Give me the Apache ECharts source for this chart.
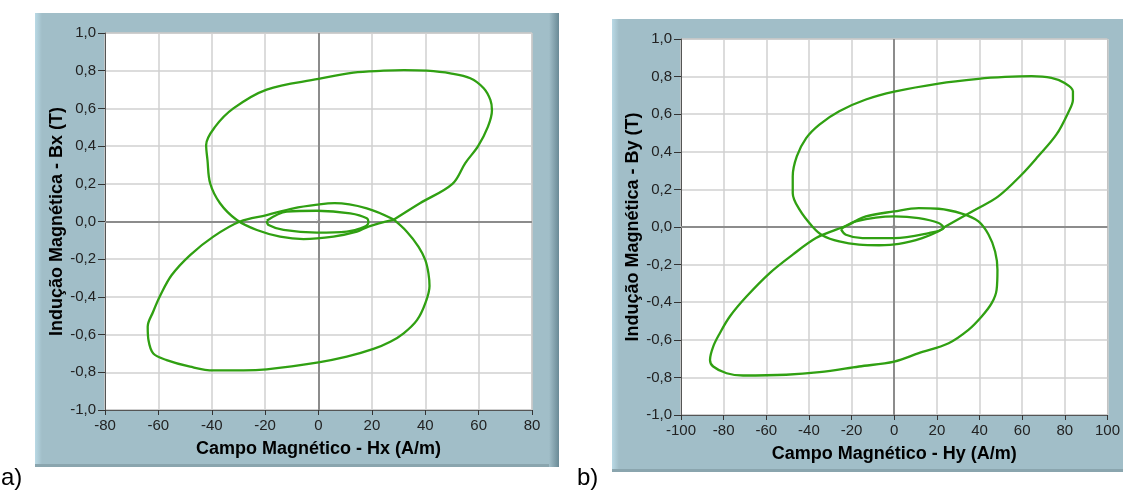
<!DOCTYPE html>
<html><head><meta charset="utf-8">
<script src="https://cdn.jsdelivr.net/npm/echarts@6/dist/echarts.min.js"></script>
<style>html,body{margin:0;padding:0;background:#fff}#c{width:1123px;height:490px}</style>
</head><body><div id="c"></div><script>
// ---- Panel a) : Bx vs Hx ----
const aUpperLoop = [[28,0.008],[38,0.097],[50.2,0.2],[55,0.31],[59.8,0.40],[63.5,0.503],[65,0.59],[64.4,0.645],[61.9,0.707],[56.9,0.76],[49.4,0.786],[40.6,0.80],[32,0.803],[24.4,0.80],[13.1,0.79],[0,0.756],[-19.4,0.70],[-31.9,0.60],[-38.7,0.503],[-42.1,0.406],[-41.6,0.326],[-40.6,0.203],[-36.9,0.097],[-30.6,0.008],[-23.1,-0.045],[-14.4,-0.08],[-5.6,-0.093],[5.6,-0.08],[14.4,-0.054],[18.7,-0.027],[28,0.008]];
const aLowerLoop = [[28,0.012],[18.1,0.07],[6,0.097],[0,0.09],[-9.4,0.07],[-19.4,0.034],[-29.4,0],[-39.4,-0.08],[-48.1,-0.178],[-55,-0.284],[-59.2,-0.39],[-62,-0.48],[-64,-0.558],[-63.7,-0.63],[-61.9,-0.70],[-56.9,-0.735],[-48.1,-0.77],[-39.4,-0.79],[-28.1,-0.79],[-19.4,-0.784],[0,-0.747],[10.6,-0.717],[20.6,-0.676],[26.9,-0.638],[31.9,-0.593],[36.9,-0.523],[40,-0.434],[41.6,-0.342],[41.2,-0.275],[40,-0.204],[37.5,-0.134],[33.1,-0.054],[28,0.012]];
const aInnerLoop = [[-19.4,0.004],[-11.9,0.052],[-0.6,0.057],[11.9,0.043],[18.1,0.017],[18.7,-0.006],[10.6,-0.054],[-0.6,-0.059],[-13.1,-0.045],[-18.7,-0.019],[-19.4,0.004]];
// ---- Panel b) : By vs Hy ----
const bUpperLoop = [[24,0.003],[38,0.092],[48.8,0.163],[59.7,0.278],[67.5,0.376],[76,0.491],[81.5,0.607],[83.8,0.678],[83.8,0.722],[79.9,0.766],[73.7,0.793],[64.4,0.802],[52,0.798],[39.5,0.788],[20.8,0.763],[0,0.72],[-13.3,0.678],[-25.8,0.616],[-35.1,0.545],[-41.3,0.473],[-45.7,0.376],[-47.6,0.27],[-47.6,0.18],[-44.4,0.092],[-38.2,0.0],[-33.6,-0.045],[-25.8,-0.077],[-16.5,-0.094],[-7.1,-0.097],[2.2,-0.09],[13.1,-0.059],[20.8,-0.023],[24,0.003]];
const bLowerLoop = [[-21.1,0.012],[-13.3,0.056],[0,0.083],[11.5,0.1],[20.8,0.097],[31.7,0.071],[39.5,0.03],[44.2,-0.04],[47.3,-0.13],[48.4,-0.227],[48,-0.334],[45.7,-0.405],[41,-0.476],[34.8,-0.547],[25.5,-0.618],[11.5,-0.671],[0,-0.716],[-16.5,-0.742],[-35.1,-0.772],[-50.7,-0.786],[-70.9,-0.79],[-78.6,-0.778],[-84.9,-0.742],[-86.4,-0.707],[-84.9,-0.636],[-81.8,-0.565],[-77.1,-0.476],[-69.3,-0.37],[-58.4,-0.245],[-47.6,-0.147],[-36.7,-0.059],[-27.3,-0.014],[-21.1,0.012]];
const bInnerLoop = [[-25,-0.011],[-18,0.03],[0,0.056],[11.5,0.047],[20.8,0.021],[23.2,-0.005],[16.2,-0.032],[0,-0.059],[-14.9,-0.059],[-22.7,-0.041],[-25,-0.011]];

const xTitles = ['Campo Magnético - Hx (A/m)', 'Campo Magnético - Hy (A/m)'];
const yTitles = ['Indução Magnética - Bx (T)', 'Indução Magnética - By (T)'];
const xRanges = [[-80, 80], [-100, 100]];
const yRange = [-1, 1];
const panelLabels = ['a)', 'b)'];

const GREEN = '#30a012';
const FONT = 'Liberation Sans, Arial, sans-serif';

function xAxis(i) {
  return {
    type: 'value', gridIndex: i, min: xRanges[i][0], max: xRanges[i][1], interval: 20,
    name: xTitles[i], nameLocation: 'middle', nameGap: 30,
    nameTextStyle: { fontFamily: FONT, fontWeight: 'bold', fontSize: 18, color: '#000' },
    axisLine: { show: true, onZero: false, lineStyle: { color: '#555', width: 1 } },
    axisTick: { show: true, length: 5, lineStyle: { color: '#333' } },
    axisLabel: { color: '#222', fontFamily: FONT, fontSize: 15, margin: 8 },
    splitLine: { show: true, lineStyle: { color: '#d0d0d0', width: 1.5 } }
  };
}
function yAxis(i) {
  return {
    type: 'value', gridIndex: i, min: yRange[0], max: yRange[1], interval: 0.2,
    name: yTitles[i], nameLocation: 'middle', nameGap: 37, nameRotate: 90,
    nameTextStyle: { fontFamily: FONT, fontWeight: 'bold', fontSize: 18, color: '#000' },
    axisLine: { show: true, onZero: false, lineStyle: { color: '#555', width: 1 } },
    axisTick: { show: true, length: 7, lineStyle: { color: '#333' } },
    axisLabel: { color: '#222', fontFamily: FONT, fontSize: 15, margin: 9,
      formatter: v => (Math.abs(v) < 1e-9 ? 0 : v).toFixed(1).replace('.', ',') },
    splitLine: { show: true, lineStyle: { color: '#d0d0d0', width: 1.5 } }
  };
}
function loop(i, data) {
  return { type: 'line', xAxisIndex: i, yAxisIndex: i, data: data, smooth: 0.35,
    showSymbol: false, symbol: 'none', z: 5, silent: true,
    lineStyle: { color: GREEN, width: 2.3 } };
}
function axesZero(i) {
  return { type: 'scatter', xAxisIndex: i, yAxisIndex: i, data: [[0, 0]], z: 3, silent: true,
    symbol: 'path://M0,-1L0,1M-1,0L1,0M-0.7,-0.7L0.7,0.7M-0.7,0.7L0.7,-0.7', symbolSize: 6,
    itemStyle: { color: 'none', borderColor: '#c8c8c8', borderWidth: 1 },
    markLine: { silent: true, symbol: ['none', 'none'], label: { show: false },
      lineStyle: { color: '#8c8c8c', type: 'solid', width: 2 },
      data: [{ xAxis: 0 }, { yAxis: 0 }] } };
}

function frame(x, y, w, h, darkRight) {
  const els = [
    { type: 'rect', shape: { x: x, y: y, width: w, height: h }, style: { fill: '#a1bec8' }, z: -10 },
    { type: 'rect', shape: { x: x, y: y, width: 7, height: h },
      style: { fill: new echarts.graphic.LinearGradient(0, 0, 1, 0, [{ offset: 0, color: '#b9d9e5' }, { offset: 1, color: '#a1bec8' }]) }, z: -9 },
    { type: 'rect', shape: { x: x, y: y + h - 3, width: w, height: 3 }, style: { fill: '#8aa5ae' }, z: -9 }
  ];
  if (darkRight) {
    els.push({ type: 'rect', shape: { x: x + w - 10, y: y, width: 10, height: h },
      style: { fill: new echarts.graphic.LinearGradient(0, 0, 1, 0, [{ offset: 0, color: '#a1bec8' }, { offset: 1, color: '#6a8a96' }]) }, z: -9 });
  }
  return els;
}

const chart = echarts.init(document.getElementById('c'), null, { renderer: 'canvas' });
chart.setOption({
  animation: false,
  backgroundColor: '#ffffff',
  graphic: [].concat(
    frame(35, 13, 524, 454, true),
    frame(612, 19, 511, 453, false),
    [
      { type: 'text', x: 1, y: 466, style: { text: panelLabels[0], font: '24px ' + FONT, fill: '#000' }, z: 10 },
      { type: 'text', x: 577, y: 466, style: { text: panelLabels[1], font: '24px ' + FONT, fill: '#000' }, z: 10 }
    ]
  ),
  grid: [
    { left: 105, top: 33, width: 427, height: 377, show: true, backgroundColor: '#fff', borderColor: '#999', borderWidth: 1 },
    { left: 681, top: 39, width: 429, height: 376, show: true, backgroundColor: '#fff', borderColor: '#999', borderWidth: 1 }
  ],
  xAxis: [xAxis(0), xAxis(1)],
  yAxis: [yAxis(0), yAxis(1)],
  series: [
    axesZero(0), axesZero(1),
    loop(0, aUpperLoop), loop(0, aLowerLoop), loop(0, aInnerLoop),
    loop(1, bUpperLoop), loop(1, bLowerLoop), loop(1, bInnerLoop)
  ]
});
</script></body></html>
